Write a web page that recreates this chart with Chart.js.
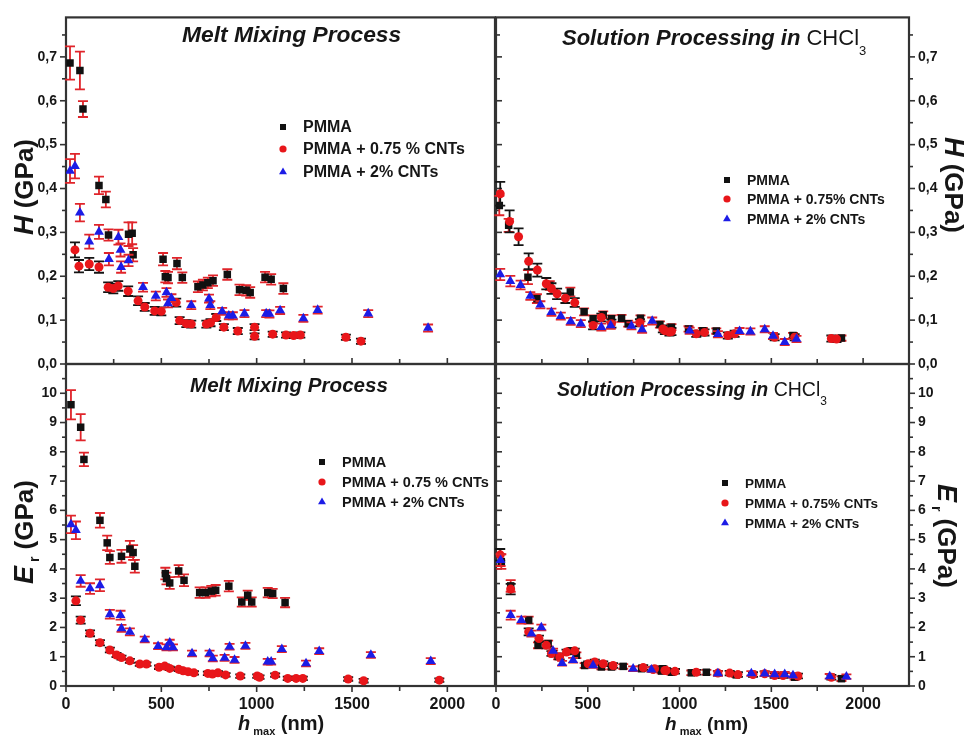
<!DOCTYPE html>
<html>
<head>
<meta charset="utf-8">
<title>Nanoindentation of PMMA / CNT composites</title>
<script src="https://cdn.jsdelivr.net/npm/chart.js@4/dist/chart.umd.min.js"></script>
<style>
  html, body { margin: 0; padding: 0; background: #ffffff; }
  #wrap { position: relative; width: 967px; height: 736px; overflow: hidden; }
  #wrap canvas { position: absolute; left: 0; top: 0; }
</style>
</head>
<body>
<div id="wrap">
  <canvas id="hMelt" width="967" height="736"></canvas>
  <canvas id="hSol" width="967" height="736"></canvas>
  <canvas id="eMelt" width="967" height="736"></canvas>
  <canvas id="eSol" width="967" height="736"></canvas>
</div>
<script>
// ---------- axis ticks ----------
const hmaxTicks = [0, 500, 1000, 1500, 2000];
const hmaxMinor = [250, 750, 1250, 1750];
const hTicks = [0, 0.1, 0.2, 0.3, 0.4, 0.5, 0.6, 0.7];
const hMinor = [0.05, 0.15, 0.25, 0.35, 0.45, 0.55, 0.65, 0.75];
const erTicks = [0, 1, 2, 3, 4, 5, 6, 7, 8, 9, 10];
const erMinor = [0.5, 1.5, 2.5, 3.5, 4.5, 5.5, 6.5, 7.5, 8.5, 9.5, 10.5];

// ---------- legend labels ----------
const namesMelt = ['PMMA', 'PMMA + 0.75 % CNTs', 'PMMA + 2% CNTs'];
const namesSol = ['PMMA', 'PMMA + 0.75% CNTs', 'PMMA + 2% CNTs'];

// ---------- hardness H (GPa), melt mixing ----------
const meltH_pmma_x = [21, 73, 89, 173, 209, 223, 328, 347, 352, 509, 521, 535, 582, 610, 692, 718, 744, 771, 846, 910, 945, 966, 1044, 1076, 1140];
const meltH_pmma_y = [0.686, 0.669, 0.581, 0.407, 0.375, 0.294, 0.296, 0.298, 0.249, 0.239, 0.199, 0.197, 0.229, 0.197, 0.176, 0.180, 0.185, 0.190, 0.204, 0.169, 0.168, 0.163, 0.198, 0.193, 0.172];
const meltH_pmma_err = [0.038, 0.043, 0.018, 0.020, 0.018, 0.013, 0.027, 0.025, 0.015, 0.014, 0.013, 0.013, 0.013, 0.012, 0.012, 0.012, 0.012, 0.012, 0.012, 0.012, 0.012, 0.012, 0.012, 0.012, 0.012];

const meltH_c075_x = [47, 68, 122, 173, 221, 248, 274, 326, 378, 413, 465, 500, 578, 596, 631, 657, 736, 758, 788, 828, 901, 989, 989, 1084, 1154, 1194, 1229, 1468, 1547];
const meltH_c075_y = [0.260, 0.223, 0.228, 0.221, 0.175, 0.172, 0.178, 0.166, 0.144, 0.130, 0.121, 0.120, 0.140, 0.099, 0.092, 0.091, 0.091, 0.094, 0.106, 0.084, 0.075, 0.084, 0.063, 0.068, 0.066, 0.065, 0.066, 0.061, 0.052];
const meltH_c075_err = [0.017, 0.014, 0.014, 0.013, 0.011, 0.011, 0.011, 0.011, 0.010, 0.009, 0.009, 0.009, 0.009, 0.008, 0.008, 0.008, 0.008, 0.008, 0.008, 0.007, 0.007, 0.007, 0.007, 0.006, 0.006, 0.006, 0.006, 0.006, 0.006];

const meltH_c2_x = [21, 47, 73, 122, 173, 225, 275, 286, 289, 328, 404, 471, 527, 535, 553, 657, 750, 757, 819, 854, 875, 936, 1050, 1067, 1123, 1245, 1320, 1585, 1899];
const meltH_c2_y = [0.440, 0.451, 0.345, 0.279, 0.301, 0.239, 0.289, 0.260, 0.221, 0.236, 0.175, 0.155, 0.163, 0.138, 0.150, 0.134, 0.149, 0.134, 0.120, 0.110, 0.110, 0.115, 0.115, 0.114, 0.122, 0.104, 0.123, 0.115, 0.082];
const meltH_c2_err = [0.027, 0.028, 0.020, 0.016, 0.016, 0.014, 0.017, 0.015, 0.013, 0.013, 0.010, 0.010, 0.010, 0.009, 0.009, 0.009, 0.009, 0.009, 0.008, 0.008, 0.008, 0.008, 0.008, 0.008, 0.008, 0.008, 0.008, 0.008, 0.008];

// ---------- hardness H (GPa), solution processing ----------
const solH_pmma_x = [18, 69, 174, 223, 293, 405, 480, 529, 584, 629, 684, 720, 787, 893, 956, 1049, 1127, 1200, 1618, 1882];
const solH_pmma_y = [0.361, 0.316, 0.198, 0.149, 0.179, 0.164, 0.119, 0.103, 0.112, 0.103, 0.104, 0.092, 0.104, 0.090, 0.084, 0.080, 0.076, 0.075, 0.065, 0.059];
const solH_pmma_err = [0.022, 0.015, 0.016, 0.010, 0.010, 0.010, 0.008, 0.008, 0.008, 0.008, 0.008, 0.007, 0.007, 0.007, 0.007, 0.006, 0.006, 0.006, 0.006, 0.006];

const solH_c075_x = [23, 74, 123, 178, 225, 274, 302, 333, 378, 429, 529, 574, 629, 784, 909, 920, 945, 956, 1091, 1136, 1263, 1300, 1518, 1627, 1827, 1855];
const solH_c075_y = [0.388, 0.325, 0.290, 0.234, 0.214, 0.183, 0.172, 0.160, 0.150, 0.140, 0.088, 0.106, 0.092, 0.094, 0.080, 0.076, 0.073, 0.074, 0.069, 0.072, 0.065, 0.069, 0.061, 0.061, 0.058, 0.057];
const solH_c075_err = [0.027, 0.025, 0.019, 0.018, 0.015, 0.013, 0.012, 0.012, 0.011, 0.010, 0.009, 0.009, 0.009, 0.008, 0.008, 0.008, 0.008, 0.008, 0.007, 0.007, 0.007, 0.007, 0.007, 0.007, 0.007, 0.007];

const solH_c2_x = [23, 78, 134, 187, 242, 302, 353, 407, 462, 574, 625, 738, 796, 851, 1055, 1209, 1327, 1386, 1464, 1509, 1573, 1637];
const solH_c2_y = [0.204, 0.189, 0.180, 0.155, 0.135, 0.118, 0.109, 0.097, 0.092, 0.084, 0.088, 0.087, 0.079, 0.098, 0.076, 0.068, 0.075, 0.074, 0.079, 0.064, 0.050, 0.057];
const solH_c2_err = [0.013, 0.012, 0.010, 0.009, 0.008, 0.008, 0.008, 0.008, 0.008, 0.008, 0.008, 0.008, 0.008, 0.008, 0.007, 0.007, 0.007, 0.007, 0.007, 0.007, 0.007, 0.007];

// ---------- reduced modulus E_r (GPa), melt mixing ----------
const meltE_pmma_x = [26, 77, 94, 178, 216, 230, 291, 335, 352, 361, 521, 527, 544, 591, 619, 701, 732, 762, 785, 854, 922, 953, 974, 1058, 1084, 1149];
const meltE_pmma_y = [9.61, 8.84, 7.74, 5.66, 4.89, 4.39, 4.43, 4.68, 4.56, 4.09, 3.84, 3.67, 3.52, 3.93, 3.61, 3.19, 3.19, 3.24, 3.27, 3.41, 2.87, 3.10, 2.87, 3.19, 3.16, 2.85];
const meltE_pmma_err = [0.50, 0.45, 0.23, 0.25, 0.25, 0.22, 0.22, 0.28, 0.25, 0.22, 0.20, 0.20, 0.20, 0.20, 0.20, 0.18, 0.18, 0.18, 0.18, 0.18, 0.16, 0.16, 0.16, 0.16, 0.16, 0.16];

const meltE_c075_x = [52, 77, 126, 178, 230, 265, 291, 335, 387, 422, 488, 518, 544, 591, 614, 640, 671, 744, 768, 797, 837, 914, 1003, 1015, 1097, 1163, 1207, 1242, 1480, 1561, 1958];
const meltE_c075_y = [2.91, 2.25, 1.80, 1.48, 1.23, 1.06, 0.97, 0.86, 0.75, 0.75, 0.64, 0.68, 0.60, 0.57, 0.52, 0.49, 0.45, 0.43, 0.41, 0.45, 0.38, 0.34, 0.34, 0.30, 0.37, 0.26, 0.26, 0.26, 0.24, 0.18, 0.20];
const meltE_c075_err = [0.15, 0.12, 0.10, 0.09, 0.08, 0.07, 0.07, 0.07, 0.06, 0.06, 0.06, 0.06, 0.06, 0.06, 0.06, 0.06, 0.06, 0.06, 0.06, 0.06, 0.06, 0.06, 0.06, 0.06, 0.06, 0.06, 0.06, 0.06, 0.06, 0.06, 0.06];

const meltE_c2_x = [26, 52, 77, 126, 178, 230, 286, 291, 335, 413, 483, 527, 544, 561, 661, 753, 770, 832, 858, 884, 941, 1058, 1076, 1132, 1259, 1328, 1599, 1913];
const meltE_c2_y = [5.52, 5.32, 3.59, 3.33, 3.44, 2.45, 2.42, 1.97, 1.85, 1.59, 1.36, 1.32, 1.48, 1.32, 1.11, 1.11, 0.94, 0.96, 1.34, 0.89, 1.37, 0.83, 0.83, 1.26, 0.77, 1.19, 1.06, 0.85];
const meltE_c2_err = [0.30, 0.30, 0.20, 0.18, 0.20, 0.15, 0.15, 0.12, 0.12, 0.10, 0.10, 0.10, 0.10, 0.10, 0.10, 0.10, 0.10, 0.10, 0.10, 0.10, 0.10, 0.10, 0.10, 0.10, 0.10, 0.10, 0.10, 0.10];

// ---------- reduced modulus E_r (GPa), solution processing ----------
const solE_pmma_x = [29, 80, 178, 229, 284, 311, 338, 411, 438, 483, 574, 629, 693, 793, 902, 909, 956, 1064, 1146, 1309, 1627, 1882];
const solE_pmma_y = [4.25, 3.42, 2.25, 1.39, 1.45, 1.11, 1.01, 1.20, 1.05, 0.70, 0.65, 0.65, 0.67, 0.59, 0.51, 0.59, 0.47, 0.45, 0.47, 0.38, 0.30, 0.25];
const solE_pmma_err = [0.25, 0.20, 0.12, 0.10, 0.10, 0.10, 0.10, 0.10, 0.10, 0.08, 0.08, 0.08, 0.08, 0.08, 0.08, 0.08, 0.08, 0.08, 0.08, 0.08, 0.08, 0.08];

const solE_c075_x = [23, 80, 178, 234, 274, 302, 347, 384, 429, 502, 538, 584, 638, 802, 856, 864, 920, 927, 975, 1091, 1209, 1273, 1318, 1400, 1464, 1518, 1564, 1645, 1827];
const solE_c075_y = [4.48, 3.31, 1.85, 1.62, 1.39, 1.11, 0.99, 1.16, 1.20, 0.76, 0.82, 0.76, 0.70, 0.63, 0.56, 0.59, 0.53, 0.53, 0.50, 0.47, 0.44, 0.44, 0.39, 0.39, 0.42, 0.36, 0.36, 0.34, 0.30];
const solE_c075_err = [0.20, 0.18, 0.12, 0.10, 0.10, 0.08, 0.08, 0.08, 0.08, 0.08, 0.08, 0.08, 0.08, 0.08, 0.08, 0.08, 0.08, 0.08, 0.08, 0.08, 0.08, 0.08, 0.08, 0.08, 0.08, 0.08, 0.08, 0.08, 0.08];

const solE_c2_x = [25, 80, 138, 193, 247, 311, 360, 420, 529, 747, 847, 1209, 1391, 1464, 1518, 1573, 1618, 1818, 1909];
const solE_c2_y = [4.30, 2.42, 2.25, 1.79, 2.00, 1.20, 0.78, 0.88, 0.70, 0.59, 0.56, 0.43, 0.43, 0.42, 0.40, 0.40, 0.36, 0.33, 0.32];
const solE_c2_err = [0.20, 0.15, 0.12, 0.10, 0.10, 0.08, 0.08, 0.08, 0.08, 0.08, 0.08, 0.08, 0.08, 0.08, 0.08, 0.08, 0.08, 0.08, 0.08];

// ---------- look ----------
const PAGE_W = 967, PAGE_H = 736;
const FONT = '"Liberation Sans", Arial, Helvetica, sans-serif';
const INK = '#161616';
const AXIS = '#333333';
const MARKS = [
  { style: 'rect', radius: 5.3, color: '#111111', bar: '#e0242a' },
  { style: 'circle', radius: 4.5, color: '#e8161a', bar: '#141414' },
  { style: 'triangle', radius: 5.7, color: '#1c1ce6', bar: '#e0242a' }
];
Chart.defaults.font.family = FONT;
Chart.defaults.color = INK;

function series(xs, ys, errs) { return { xs, ys, errs }; }

// vertical error bars with caps, drawn under each dataset's markers
const errorBarPlugin = {
  id: 'errorBars',
  beforeDatasetDraw(chart, args) {
    const ds = chart.data.datasets[args.index];
    if (!ds.errorBars) return;
    const ys = chart.scales.y, ctx = chart.ctx, cap = 5;
    ctx.save();
    ctx.strokeStyle = ds.errorColor;
    ctx.lineWidth = 1.8;
    args.meta.data.forEach((pt, i) => {
      const v = ds.data[i].y, e = ds.errorBars[i];
      const top = ys.getPixelForValue(v + e), bot = ys.getPixelForValue(v - e);
      ctx.beginPath();
      ctx.moveTo(pt.x, top); ctx.lineTo(pt.x, bot);
      ctx.moveTo(pt.x - cap, top); ctx.lineTo(pt.x + cap, top);
      ctx.moveTo(pt.x - cap, bot); ctx.lineTo(pt.x + cap, bot);
      ctx.stroke();
    });
    ctx.restore();
  }
};

// text made of several runs (italic symbol, subscript, units)
function rich(ctx, parts, x, y, opt) {
  opt = opt || {};
  ctx.save();
  ctx.translate(x, y);
  if (opt.rot) ctx.rotate(opt.rot);
  ctx.textBaseline = 'alphabetic';
  ctx.textAlign = 'left';
  ctx.fillStyle = INK;
  let w = 0;
  parts.forEach(p => { ctx.font = p.font; p.w = ctx.measureText(p.t).width; w += p.w; });
  let cx = opt.align === 'center' ? -w / 2 : 0;
  parts.forEach(p => { ctx.font = p.font; ctx.fillText(p.t, cx, p.dy || 0); cx += p.w; });
  ctx.restore();
}

function marker(ctx, m, x, y, r) {
  ctx.save();
  ctx.fillStyle = m.color;
  if (Chart.helpers && Chart.helpers.drawPoint) {
    Chart.helpers.drawPoint(ctx, { pointStyle: m.style, radius: r, rotation: 0, borderWidth: 0 }, x, y);
  } else {
    ctx.beginPath(); ctx.arc(x, y, r, 0, Math.PI * 2); ctx.fill();
  }
  ctx.restore();
}

function legend(ctx, names, mx, tx, rows, size) {
  names.forEach((n, k) => {
    marker(ctx, MARKS[k], mx, rows[k], MARKS[k].radius * 0.8);
    ctx.save();
    ctx.font = 'bold ' + size + 'px ' + FONT;
    ctx.fillStyle = INK;
    ctx.textBaseline = 'middle';
    ctx.textAlign = 'left';
    ctx.fillText(n, tx, rows[k] + 1);
    ctx.restore();
  });
}

function f(style, size) { return style + ' ' + size + 'px ' + FONT; }

// frame, inward/outward major and minor ticks, and annotations of one panel
function panelPlugin(cfg) {
  return {
    id: 'panelFrame',
    beforeDatasetsDraw(chart) {
      const ctx = chart.ctx, a = chart.chartArea;
      const xs = chart.scales.x, ys = chart.scales.y;
      ctx.save();
      ctx.strokeStyle = AXIS;
      ctx.lineWidth = 1.6;
      const seg = (x1, y1, x2, y2) => { ctx.beginPath(); ctx.moveTo(x1, y1); ctx.lineTo(x2, y2); ctx.stroke(); };
      [['left', a.left, cfg.ticks.left], ['right', a.right, cfg.ticks.right]].forEach(([side, x0, dir]) => {
        if (!dir) return;
        const s = ((side === 'left') === (dir === 'out')) ? -1 : 1;
        cfg.yMajor.forEach(v => { const y = ys.getPixelForValue(v); seg(x0, y, x0 + s * 6, y); });
        cfg.yMinor.forEach(v => { const y = ys.getPixelForValue(v); seg(x0, y, x0 + s * 4, y); });
      });
      if (cfg.ticks.bottom) {
        const s = cfg.ticks.bottom === 'out' ? 1 : -1, y0 = a.bottom;
        hmaxTicks.forEach(v => { const x = xs.getPixelForValue(v); seg(x, y0, x, y0 + s * 6); });
        hmaxMinor.forEach(v => { const x = xs.getPixelForValue(v); seg(x, y0, x, y0 + s * 5); });
      }
      ctx.lineWidth = 2.2;
      ctx.strokeRect(a.left, a.top, a.right - a.left, a.bottom - a.top);
      ctx.restore();
    },
    afterDraw(chart) { cfg.decorate(chart.ctx); }
  };
}

function makePanel(id, cfg) {
  const yw = 60, xh = cfg.xLabels ? 44 : 0, a = cfg.area;
  const padding = {
    left: cfg.ySide === 'left' ? a.left - yw : a.left,
    right: cfg.ySide === 'right' ? PAGE_W - a.right - yw : PAGE_W - a.right,
    top: a.top,
    bottom: PAGE_H - a.bottom - xh
  };
  const datasets = cfg.series.map((s, k) => ({
    label: cfg.names[k],
    data: s.xs.map((x, i) => ({ x: x, y: s.ys[i] })),
    errorBars: s.errs,
    errorColor: MARKS[k].bar,
    pointStyle: MARKS[k].style,
    pointRadius: MARKS[k].radius,
    pointHoverRadius: MARKS[k].radius,
    backgroundColor: MARKS[k].color,
    borderColor: MARKS[k].color,
    borderWidth: 0,
    showLine: false,
    order: 3 - k
  }));
  return new Chart(document.getElementById(id), {
    type: 'scatter',
    data: { datasets },
    options: {
      responsive: false,
      animation: false,
      devicePixelRatio: 1,
      events: [],
      layout: { padding },
      plugins: { legend: { display: false }, tooltip: { enabled: false } },
      scales: {
        x: {
          type: 'linear', position: 'bottom', min: 0, max: 2250,
          afterBuildTicks: s => { s.ticks = hmaxTicks.map(v => ({ value: v })); },
          afterFit: s => { s.height = xh; },
          grid: { display: false, drawTicks: false },
          border: { display: false },
          ticks: { display: cfg.xLabels, autoSkip: false, maxRotation: 0, padding: 9,
                   font: { size: 16, weight: 'bold' }, color: INK, callback: v => String(v) }
        },
        y: {
          type: 'linear', position: cfg.ySide, min: 0, max: cfg.yMax,
          afterBuildTicks: s => { s.ticks = cfg.yMajor.map(v => ({ value: v })); },
          afterFit: s => { s.width = yw; },
          grid: { display: false, drawTicks: false },
          border: { display: false },
          ticks: { autoSkip: false, padding: 9, font: { size: 14, weight: 'bold' }, color: INK,
                   callback: cfg.yFormat }
        }
      }
    },
    plugins: [errorBarPlugin, panelPlugin(cfg)]
  });
}

const commaOne = v => v.toFixed(1).replace('.', ',');
const plainInt = v => String(v);

// top left: hardness, melt mixing
makePanel('hMelt', {
  area: { left: 66, right: 495, top: 13, bottom: 364 },
  ySide: 'left', yMax: 0.79, yMajor: hTicks, yMinor: hMinor, yFormat: commaOne, xLabels: false,
  ticks: { left: 'out', right: null, bottom: 'in' },
  names: namesMelt,
  series: [series(meltH_pmma_x, meltH_pmma_y, meltH_pmma_err),
           series(meltH_c075_x, meltH_c075_y, meltH_c075_err),
           series(meltH_c2_x, meltH_c2_y, meltH_c2_err)],
  decorate(ctx) {
    rich(ctx, [{ t: 'Melt Mixing Process', font: f('italic bold', 22.8) }], 182, 42);
    legend(ctx, namesMelt, 283, 303, [127, 149, 172], 16);
    rich(ctx, [{ t: 'H', font: f('italic bold', 27) }, { t: ' (GPa)', font: f('bold', 26) }],
         33, 187, { rot: -Math.PI / 2, align: 'center' });
  }
});

// top right: hardness, solution processing
makePanel('hSol', {
  area: { left: 496, right: 909, top: 13, bottom: 364 },
  ySide: 'right', yMax: 0.79, yMajor: hTicks, yMinor: hMinor, yFormat: commaOne, xLabels: false,
  ticks: { left: 'in', right: 'out', bottom: 'in' },
  names: namesSol,
  series: [series(solH_pmma_x, solH_pmma_y, solH_pmma_err),
           series(solH_c075_x, solH_c075_y, solH_c075_err),
           series(solH_c2_x, solH_c2_y, solH_c2_err)],
  decorate(ctx) {
    rich(ctx, [{ t: 'Solution Processing in ', font: f('italic bold', 22) },
               { t: 'CHCl', font: f('normal', 22) },
               { t: '3', font: f('normal', 13), dy: 10 }], 562, 45);
    legend(ctx, namesSol, 727, 747, [180, 199, 219], 14);
    rich(ctx, [{ t: 'H', font: f('italic bold', 27) }, { t: ' (GPa)', font: f('bold', 26) }],
         945, 185, { rot: Math.PI / 2, align: 'center' });
  }
});

// bottom left: reduced modulus, melt mixing
makePanel('eMelt', {
  area: { left: 66, right: 495, top: 364, bottom: 686 },
  ySide: 'left', yMax: 11, yMajor: erTicks, yMinor: erMinor, yFormat: plainInt, xLabels: true,
  ticks: { left: 'out', right: null, bottom: 'out' },
  names: namesMelt,
  series: [series(meltE_pmma_x, meltE_pmma_y, meltE_pmma_err),
           series(meltE_c075_x, meltE_c075_y, meltE_c075_err),
           series(meltE_c2_x, meltE_c2_y, meltE_c2_err)],
  decorate(ctx) {
    rich(ctx, [{ t: 'Melt Mixing Process', font: f('italic bold', 20.6) }], 190, 392);
    legend(ctx, namesMelt, 322, 342, [462, 482, 502], 14.5);
    rich(ctx, [{ t: 'E', font: f('italic bold', 27) }, { t: ' r', font: f('bold', 14), dy: 6 },
               { t: ' (GPa)', font: f('bold', 26) }],
         33, 532, { rot: -Math.PI / 2, align: 'center' });
    rich(ctx, [{ t: 'h', font: f('italic bold', 20) }, { t: ' max', font: f('bold', 11), dy: 5 },
               { t: ' (nm)', font: f('bold', 20) }], 238, 730);
  }
});

// bottom right: reduced modulus, solution processing
makePanel('eSol', {
  area: { left: 496, right: 909, top: 364, bottom: 686 },
  ySide: 'right', yMax: 11, yMajor: erTicks, yMinor: erMinor, yFormat: plainInt, xLabels: true,
  ticks: { left: 'in', right: 'out', bottom: 'out' },
  names: namesSol,
  series: [series(solE_pmma_x, solE_pmma_y, solE_pmma_err),
           series(solE_c075_x, solE_c075_y, solE_c075_err),
           series(solE_c2_x, solE_c2_y, solE_c2_err)],
  decorate(ctx) {
    rich(ctx, [{ t: 'Solution Processing in ', font: f('italic bold', 19.5) },
               { t: 'CHCl', font: f('normal', 19.5) },
               { t: '3', font: f('normal', 12), dy: 9 }], 557, 396);
    legend(ctx, namesSol, 725, 745, [483, 503, 523], 13.5);
    rich(ctx, [{ t: 'E', font: f('italic bold', 27) }, { t: ' r', font: f('bold', 14), dy: 6 },
               { t: ' (GPa)', font: f('bold', 26) }],
         938, 536, { rot: Math.PI / 2, align: 'center' });
    rich(ctx, [{ t: 'h', font: f('italic bold', 19) }, { t: ' max', font: f('bold', 11), dy: 5 },
               { t: ' (nm)', font: f('bold', 19) }], 665, 730);
  }
});
</script>
</body>
</html>
